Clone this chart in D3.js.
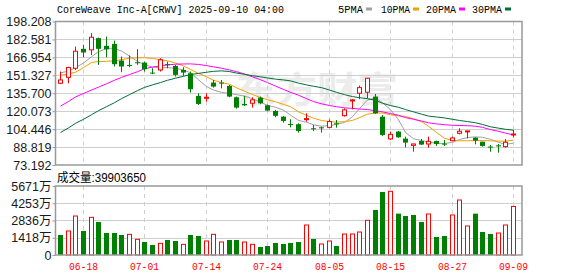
<!DOCTYPE html>
<html lang="zh">
<head>
<meta charset="utf-8" />
<script src="https://d3js.org/d3.v7.min.js"></script>
<style>
  body { margin: 0; background: #fff; }
  svg text { font-family: "Liberation Sans", "Noto Sans CJK SC", sans-serif; }
  .mono { font-family: "Liberation Mono", "DejaVu Sans Mono", monospace !important; }
</style>
</head>
<body>
<svg id="chart" width="578" height="276"></svg>
<script>
const dates = ["06-13","06-16","06-17","06-18","06-20","06-23","06-24","06-25","06-26","06-27",
  "06-30","07-01","07-02","07-03","07-07","07-08","07-09","07-10","07-11","07-14",
  "07-15","07-16","07-17","07-18","07-21","07-22","07-23","07-24","07-25","07-28",
  "07-29","07-30","07-31","08-01","08-04","08-05","08-06","08-07","08-08","08-11",
  "08-12","08-13","08-14","08-15","08-18","08-19","08-20","08-21","08-22","08-25",
  "08-26","08-27","08-28","08-29","09-02","09-03","09-04","09-05","09-08","09-09"];
const open = [144.4,149.6,157.5,174.4,173.5,183.7,177.0,178.7,164.2,160.4,
  162.7,162.4,153.7,156.0,161.0,159.5,156.0,153.1,133.4,131.3,
  145.0,145.0,142.1,132.2,126.4,127.0,131.9,125.2,120.3,115.3,
  108.9,108.7,113.0,105.2,106.0,106.0,109.5,116.2,129.0,135.7,
  136.6,132.8,115.3,95.9,102.3,96.2,90.3,94.1,91.5,94.1,
  91.8,94.4,100.8,102.5,97.0,93.5,89.2,90.3,89.2,99.6];
const high = [154.6,158.7,176.4,177.9,188.0,184.2,185.1,181.6,167.7,168.6,
  174.1,163.3,157.5,166.2,163.3,160.4,158.4,154.6,135.7,135.7,
  147.3,147.3,142.9,132.8,133.4,132.2,132.8,125.8,121.2,115.9,
  113.0,109.5,118.2,108.1,106.6,113.0,112.4,122.6,130.7,142.4,
  148.8,135.1,116.8,102.3,102.8,97.9,91.8,95.9,97.9,94.4,
  95.0,97.9,105.2,103.1,97.3,93.5,90.6,91.5,95.9,103.7];
const low = [143.6,144.4,156.0,167.1,169.1,160.4,167.1,159.0,154.0,158.4,
  160.4,154.6,152.3,154.6,157.5,150.2,150.8,136.3,125.5,128.4,
  140.6,140.0,132.2,122.3,124.6,123.2,126.1,120.0,114.8,110.1,
  106.0,101.4,111.0,102.8,101.4,105.2,105.7,115.3,121.7,130.5,
  131.3,117.7,98.5,95.0,97.0,88.6,84.8,90.6,88.3,89.8,
  89.8,94.1,99.9,96.4,91.2,89.2,84.8,83.9,88.3,97.3];
const close = [147.3,158.1,172.3,171.2,184.5,174.4,174.0,161.0,159.0,159.5,
  162.1,156.6,153.1,164.8,160.4,151.7,153.7,139.2,126.4,132.2,
  141.5,144.4,132.8,123.2,125.2,129.9,127.0,120.6,116.0,111.6,
  108.4,102.8,113.6,104.6,105.5,111.0,108.9,121.2,129.9,140.6,
  148.8,118.2,99.4,99.9,97.3,92.7,91.5,91.0,93.8,91.5,
  91.3,96.7,102.6,102.9,94.4,89.8,88.6,89.8,93.0,100.2];
// close of the day before the first candle (colours the first volume bar)
const closeBefore = 150.5;
// volume, in 万 shares
const volume = [1644,1973,3205,1973,3096,2712,1808,1808,1644,1699,
  1288,1068,822,959,1233,1151,877,1644,1562,1151,
  1699,1068,1233,1233,1068,877,658,740,986,904,
  986,1068,2466,1315,904,1151,740,1726,1726,1890,
  2849,3698,5178,5233,3397,3205,3288,2712,3370,1479,
  1562,3288,4520,2384,3397,1890,1726,1808,2466,3990];
const ma5 = [153.5,155,158,162,167.5,172,174.5,174.5,172.5,168,
  163.5,160.5,158.5,158,158,157.5,156,153.5,147.5,141.5,
  138.5,136.5,135.5,134.5,133.2,131,127.8,125.2,123.5,121,
  116.7,112,110.5,108.2,107,107.5,108.7,110.2,115.3,122.3,
  129.9,131.7,127.4,121.4,112.7,101.5,96.1,94.5,93.2,92.1,
  91.9,93.0,95.4,97.1,97.7,97.3,95.6,93.0,91.1,92.3];
const ma10 = [151.4,152.5,154,158,162.5,163.3,163.5,164,165,166.3,
  166.6,166.6,166,165,164,162,159.5,156.5,153,150,
  147,145,143.5,140.5,137.5,134.5,132,130,128.3,126,
  124,119.5,116.5,114,112,111,110.5,111,112,114.5,
  117.5,118.5,118.5,117,116,115.5,113.5,111,107,101.5,
  96.5,94.5,94.3,94.3,94.5,94.5,94.3,94,94,94.8];
const ma20 = [124.5,128.5,132.5,135.5,138.5,141,144,147,149.5,152,
  154.5,157,158.5,159.5,160.5,161,161.2,161.3,160.8,159.8,
  158.7,157.5,156,154.5,152.5,150,147.5,145,142,139,
  136.5,134,131,128.5,126.5,125,124,123,122.5,122,
  121.5,120.5,119.5,118,116.5,114.5,113,111.5,110,109,
  108.3,107.8,107.6,107.4,107,106,104,102.5,101,99.3];
const ma30 = [101.5,105.5,109.5,113,117,120.5,124,127.5,131,134.5,
  138,140.8,143,145,147,148.8,150.5,152,153,154,
  154.8,155.2,154.6,153.3,152.2,151,150,149,148,147.3,
  146.5,144.5,143,141.8,140.6,138.5,136.5,134.5,132.8,131.8,
  131,129.5,127,125,123.5,121.5,119.5,117.5,115.8,115,
  114.2,113,112,111,110,108.5,106.5,105.3,104.3,103.5];
const priceTicks = [73.192,88.819,104.446,120.073,135.700,151.327,166.954,182.581,198.208];
const volTicks = [0,1418,2836,4253,5671];
const tickDates = ["06-18","07-01","07-14","07-24","08-05","08-15","08-27","09-09"];
const maNames = ["5PMA","10PMA","20PMA","30PMA"];
const maColors = ["#a0a0a0","#f0a000","#ff00ff","#006e36"];
const titleText = "CoreWeave Inc-A[CRWV] 2025-09-10 04:00";
const volLabel = "成交量:39903650";

const svg = d3.select("#chart");
const left = 56, right = 522;
const mainTop = 21.5, mainBottom = 165;
const volTop = 186, volBottom = 255;
const up = "#ff0000", down = "#008000";

const x = d3.scaleBand().domain(dates).range([left, left + dates.length * 7.68]);
const cx = d => Math.round(x(d) + x.bandwidth() / 2) + 0.5;
const y = d3.scaleLinear().domain([73.192, 198.208]).range([mainBottom, mainTop]);
const yv = d3.scaleLinear().domain([0, 5671]).range([volBottom, volTop]);

const data = dates.map((d, i) => ({
  date: d, o: open[i], h: high[i], l: low[i], c: close[i], v: volume[i],
  volUp: close[i] >= (i === 0 ? closeBefore : close[i - 1])
}));

// title and legend
svg.append("text").attr("class", "mono").attr("x", 57).attr("y", 13)
  .attr("font-size", 11).attr("textLength", 227).attr("lengthAdjust", "spacingAndGlyphs")
  .attr("fill", "#000").text(titleText);
const legendX = [338, 381, 426, 472];
const legendW = [25, 29, 30, 30];
maNames.forEach((n, i) => {
  svg.append("text").attr("class", "mono").attr("x", legendX[i]).attr("y", 13)
    .attr("font-size", 11).attr("textLength", legendW[i]).attr("lengthAdjust", "spacingAndGlyphs")
    .text(n);
  svg.append("rect").attr("x", legendX[i] + legendW[i] + 3).attr("y", 7.5)
    .attr("width", 6).attr("height", 3).attr("fill", maColors[i]);
});

// watermark
svg.append("text").attr("x", 236).attr("y", 103).attr("font-size", 36).attr("font-weight", "bold")
  .attr("font-family", "Noto Sans CJK SC").attr("fill", "#ececec")
  .attr("textLength", 162).attr("lengthAdjust", "spacingAndGlyphs").text("东方财富");

// grids
const grid = svg.append("g");
grid.selectAll("line.hp").data(priceTicks.slice(1, -1)).join("line")
  .attr("x1", left).attr("x2", right)
  .attr("y1", d => Math.round(y(d)) + 0.5).attr("y2", d => Math.round(y(d)) + 0.5)
  .attr("stroke", "#cfcfcf");
grid.selectAll("line.hv").data(volTicks.slice(1, -1)).join("line")
  .attr("x1", left).attr("x2", right)
  .attr("y1", d => Math.round(yv(d)) + 0.5).attr("y2", d => Math.round(yv(d)) + 0.5)
  .attr("stroke", "#cfcfcf");
[[mainTop, mainBottom], [volTop, volBottom]].forEach(([t, b]) => {
  grid.selectAll(null).data(tickDates).join("line")
    .attr("x1", d => cx(d)).attr("x2", d => cx(d)).attr("y1", t).attr("y2", b)
    .attr("stroke", "#cfcfcf").attr("stroke-dasharray", "4,4");
});

// moving averages
const maLine = arr => d3.line().x((d, i) => cx(dates[i])).y(d => y(d))(arr);
[ma5, ma10, ma20, ma30].forEach((arr, i) => {
  svg.append("path").attr("d", maLine(arr)).attr("fill", "none")
    .attr("stroke", maColors[i]).attr("stroke-width", 1);
});

// candles
const candles = svg.append("g").selectAll("g").data(data).join("g");
candles.append("line")
  .attr("x1", d => cx(d.date)).attr("x2", d => cx(d.date))
  .attr("y1", d => y(d.h)).attr("y2", d => y(d.l))
  .attr("stroke", d => d.c >= d.o ? up : down);
candles.append("rect")
  .attr("x", d => d.c >= d.o ? cx(d.date) - 2 : cx(d.date) - 2.5)
  .attr("width", d => d.c >= d.o ? 4 : 5)
  .attr("y", d => y(Math.max(d.o, d.c)))
  .attr("height", d => Math.max(1, Math.abs(y(d.o) - y(d.c))))
  .attr("fill", d => d.c >= d.o ? "#fff" : down)
  .attr("stroke", d => d.c >= d.o ? up : "none");

// volume bars
svg.append("g").selectAll("rect").data(data).join("rect")
  .attr("x", d => d.volUp ? cx(d.date) - 2 : cx(d.date) - 2.5)
  .attr("width", d => d.volUp ? 4 : 5)
  .attr("y", d => yv(d.v))
  .attr("height", d => volBottom - yv(d.v))
  .attr("fill", d => d.volUp ? "#fff" : down)
  .attr("stroke", d => d.volUp ? up : "none");

// frames
[[mainTop, mainBottom], [volTop, volBottom]].forEach(([t, b]) => {
  svg.append("rect").attr("x", left - 0.5).attr("y", t).attr("width", right - left + 0.5)
    .attr("height", b - t).attr("fill", "none").attr("stroke", "#999").attr("stroke-width", 1.5);
});

// y axes
const yAxis = svg.append("g").attr("transform", `translate(${left - 0.5},0)`)
  .call(d3.axisLeft(y).tickValues(priceTicks).tickFormat(d3.format(".3f")).tickSize(3).tickPadding(1));
const vAxis = svg.append("g").attr("transform", `translate(${left - 0.5},0)`)
  .call(d3.axisLeft(yv).tickValues(volTicks).tickFormat(d => d === 0 ? "0" : d + "万").tickSize(3).tickPadding(1));
[yAxis, vAxis].forEach(a => {
  a.select(".domain").remove();
  a.selectAll(".tick line").attr("stroke", "#999");
  a.selectAll("text").attr("font-size", 12.5).attr("fill", "#1a1a1a")
    .attr("font-family", "Liberation Sans, Noto Sans CJK SC");
});

// volume label
svg.append("text").attr("x", 57).attr("y", 182).attr("font-size", 12)
  .attr("font-family", "Noto Sans CJK SC").attr("fill", "#000")
  .attr("textLength", 89).attr("lengthAdjust", "spacingAndGlyphs").text(volLabel);

// date labels
svg.append("g").selectAll("text").data(tickDates).join("text")
  .attr("class", "mono")
  .attr("x", d => cx(d)).attr("y", 270).attr("text-anchor", "middle")
  .attr("font-size", 11).attr("fill", up)
  .attr("textLength", 29).attr("lengthAdjust", "spacingAndGlyphs")
  .text(d => d);
</script>
</body>
</html>
